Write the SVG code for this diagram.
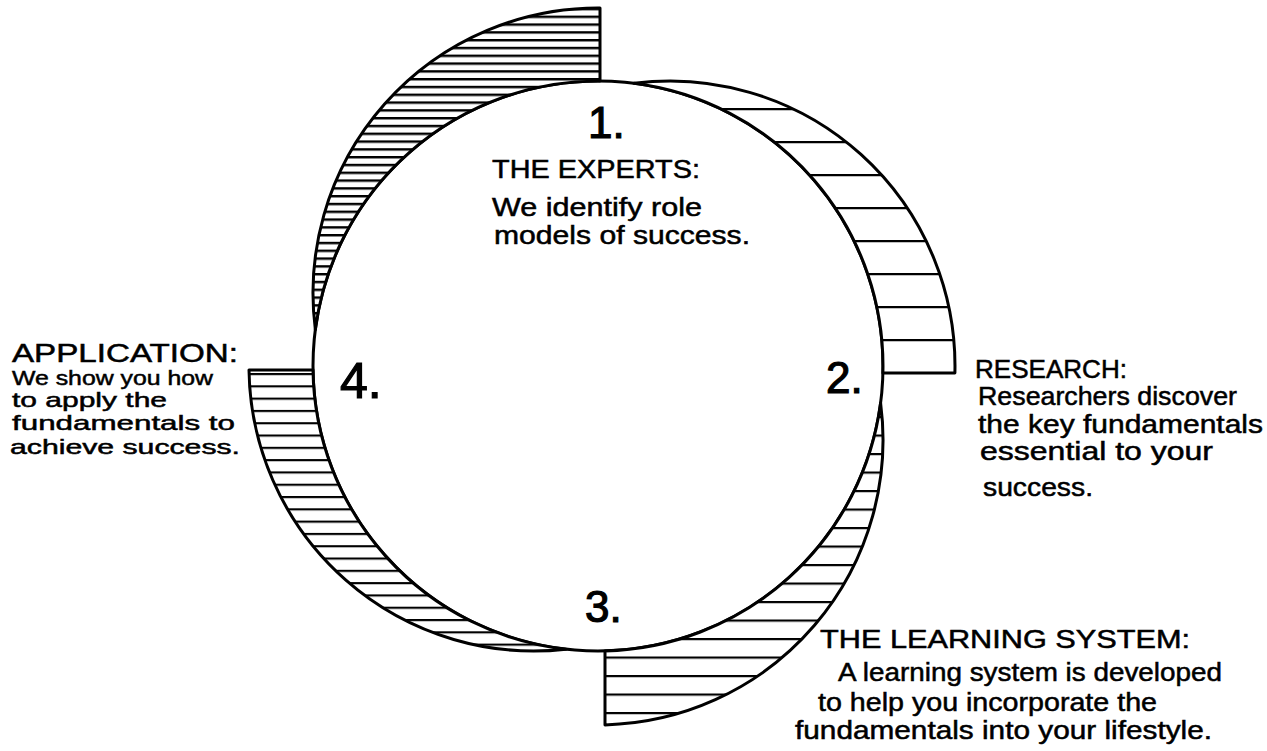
<svg xmlns="http://www.w3.org/2000/svg" width="1267" height="751" viewBox="0 0 1267 751">
  <style>
    .outline { stroke: #000; stroke-width: 3; stroke-linejoin: round; }
    .txt { font-family: "Liberation Sans", "Noto Sans", sans-serif; fill: #000; stroke: #000; stroke-width: 0.5; }
    .num { font-size: 44px; stroke-width: 1.2; }
    .head { font-size: 25px; }
    .body { font-size: 25px; }
    .small { font-size: 21px; }
  </style>
  <defs>
    <pattern id="hatch1" patternUnits="userSpaceOnUse" x="0" y="0" width="1267" height="7.8">
      <rect width="1267" height="7.8" fill="#fff"/>
      <line x1="0" y1="1.2" x2="1267" y2="1.2" stroke="#000" stroke-width="2.4"/>
    </pattern>
    <pattern id="hatch2" patternUnits="userSpaceOnUse" x="0" y="9" width="1267" height="33">
      <rect width="1267" height="33" fill="#fff"/>
      <line x1="0" y1="1" x2="1267" y2="1" stroke="#000" stroke-width="2.4"/>
    </pattern>
    <pattern id="hatch3" patternUnits="userSpaceOnUse" x="0" y="9" width="1267" height="18.5">
      <rect width="1267" height="18.5" fill="#fff"/>
      <line x1="0" y1="1" x2="1267" y2="1" stroke="#000" stroke-width="2.4"/>
    </pattern>
    <pattern id="hatch4" patternUnits="userSpaceOnUse" x="0" y="4" width="1267" height="12.3">
      <rect width="1267" height="12.3" fill="#fff"/>
      <line x1="0" y1="1" x2="1267" y2="1" stroke="#000" stroke-width="2.4"/>
    </pattern>
  </defs>
  <rect width="1267" height="751" fill="#fff"/>

  <g id="cycle-circle">
    <circle cx="598" cy="366" r="285" fill="none" class="outline"/>
  </g>

  <g id="node-1-experts">
    <path class="outline" fill="url(#hatch1)" d="M600,8 A285,285 0 0 0 315.35,329.5 A285,285 0 0 1 600,81 Z"/>
    <text class="txt num" x="588" y="138">1.</text>
    <text class="txt head" x="492" y="178" textLength="208" lengthAdjust="spacingAndGlyphs">THE EXPERTS:</text>
    <text class="txt body" x="492" y="216" textLength="210" lengthAdjust="spacingAndGlyphs">We identify role</text>
    <text class="txt body" x="494" y="244" textLength="256" lengthAdjust="spacingAndGlyphs">models of success.</text>
  </g>

  <g id="node-2-research">
    <path class="outline" fill="url(#hatch2)" d="M634,83.28 A285,285 0 0 1 954.9,373 L882.9,373 A285,285 0 0 0 634,83.28 Z"/>
    <text class="txt num" x="826" y="393">2.</text>
    <text class="txt head" x="975" y="378" textLength="152" lengthAdjust="spacingAndGlyphs">RESEARCH:</text>
    <text class="txt body" x="978" y="405" textLength="259" lengthAdjust="spacingAndGlyphs">Researchers discover</text>
    <text class="txt body" x="978" y="433" textLength="285" lengthAdjust="spacingAndGlyphs">the key fundamentals</text>
    <text class="txt body" x="980" y="460" textLength="233" lengthAdjust="spacingAndGlyphs">essential to your</text>
    <text class="txt body" x="983" y="496" textLength="110" lengthAdjust="spacingAndGlyphs">success.</text>
  </g>

  <g id="node-3-learning-system">
    <path class="outline" fill="url(#hatch3)" d="M880.59,403 A285,285 0 0 1 605,724.9 L605,650.9 A285,285 0 0 0 880.59,403 Z"/>
    <text class="txt num" x="585" y="622">3.</text>
    <text class="txt head" x="820" y="648" textLength="370" lengthAdjust="spacingAndGlyphs">THE LEARNING SYSTEM:</text>
    <text class="txt body" x="838" y="681" textLength="384" lengthAdjust="spacingAndGlyphs">A learning system is developed</text>
    <text class="txt body" x="818" y="711" textLength="339" lengthAdjust="spacingAndGlyphs">to help you incorporate the</text>
    <text class="txt body" x="795" y="739" textLength="417" lengthAdjust="spacingAndGlyphs">fundamentals into your lifestyle.</text>
  </g>

  <g id="node-4-application">
    <path class="outline" fill="url(#hatch4)" d="M566,649.2 A285,285 0 0 1 249,370 L313,370 A285,285 0 0 0 566,649.2 Z"/>
    <text class="txt num" x="340" y="398" style="font-size:50px">4.</text>
    <text class="txt head" x="12" y="362" textLength="226" lengthAdjust="spacingAndGlyphs" style="font-size:25px">APPLICATION:</text>
    <text class="txt small" x="12" y="385" textLength="201" lengthAdjust="spacingAndGlyphs">We show you how</text>
    <text class="txt small" x="12" y="407" textLength="155" lengthAdjust="spacingAndGlyphs">to apply the</text>
    <text class="txt small" x="12" y="430" textLength="223" lengthAdjust="spacingAndGlyphs">fundamentals to</text>
    <text class="txt small" x="10" y="454" textLength="230" lengthAdjust="spacingAndGlyphs">achieve success.</text>
  </g>

  <g id="connectors"></g>
</svg>
